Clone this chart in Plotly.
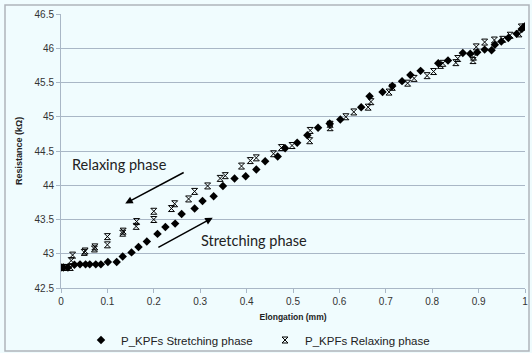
import plotly.graph_objects as go

# Stretching phase (diamonds)
stretch_x = [0.0, 0.005, 0.015, 0.029, 0.041, 0.053, 0.062, 0.075, 0.086, 0.101, 0.12, 0.133,
             0.152, 0.167, 0.185, 0.208, 0.225, 0.246, 0.26, 0.288, 0.305, 0.329, 0.349, 0.374,
             0.398, 0.421, 0.44, 0.467, 0.483, 0.509, 0.531, 0.554, 0.579, 0.602, 0.647, 0.665,
             0.693, 0.714, 0.735, 0.753, 0.775, 0.813, 0.834, 0.866, 0.882, 0.897, 0.913, 0.928,
             0.935, 0.949, 0.964, 0.982, 0.993, 1.0]
stretch_y = [42.8, 42.8, 42.8, 42.84, 42.845, 42.845, 42.845, 42.845, 42.845, 42.88, 42.88, 42.96,
             43.02, 43.10, 43.18, 43.29, 43.39, 43.44, 43.58, 43.66, 43.77, 43.84, 43.99, 44.10,
             44.13, 44.23, 44.35, 44.42, 44.54, 44.62, 44.73, 44.84, 44.90, 44.96, 45.14, 45.30,
             45.36, 45.45, 45.52, 45.61, 45.67, 45.78, 45.82, 45.93, 45.92, 45.94, 45.98, 45.97,
             46.05, 46.10, 46.15, 46.21, 46.28, 46.32]

# Relaxing phase (stars)
relax_x = [0.0, 0.004, 0.01, 0.02, 0.022, 0.025, 0.05, 0.052, 0.072, 0.073, 0.1, 0.1, 0.133,
           0.134, 0.162, 0.163, 0.2, 0.2, 0.238, 0.245, 0.275, 0.288, 0.316, 0.343, 0.354, 0.389,
           0.408, 0.421, 0.458, 0.475, 0.498, 0.536, 0.537, 0.58, 0.58, 0.614, 0.631, 0.662,
           0.668, 0.707, 0.714, 0.747, 0.761, 0.789, 0.803, 0.818, 0.823, 0.851, 0.855, 0.888,
           0.889, 0.895, 0.913, 0.934, 0.952, 0.968, 0.987, 0.992, 1.0]
relax_y = [42.8, 42.8, 42.8, 42.8, 42.9, 42.98, 43.02, 43.04, 43.07, 43.10, 43.13, 43.25, 43.30,
           43.33, 43.40, 43.47, 43.50, 43.62, 43.66, 43.73, 43.80, 43.91, 43.99, 44.10, 44.14, 44.28,
           44.36, 44.40, 44.46, 44.55, 44.58, 44.65, 44.80, 44.84, 44.89, 45.00, 45.07, 45.14,
           45.22, 45.36, 45.43, 45.49, 45.56, 45.60, 45.66, 45.75, 45.78, 45.79, 45.85, 45.82,
           45.87, 46.02, 46.09, 46.12, 46.13, 46.19, 46.21, 46.31, 46.31]

x_ticks = [0, 0.1, 0.2, 0.3, 0.4, 0.5, 0.6, 0.7, 0.8, 0.9, 1]
x_tick_labels = ["0", "0.1", "0.2", "0.3", "0.4", "0.5", "0.6", "0.7", "0.8", "0.9", "1"]
y_ticks = [42.5, 43, 43.5, 44, 44.5, 45, 45.5, 46, 46.5]
y_tick_labels = ["42.5", "43", "43.5", "44", "44.5", "45", "45.5", "46", "46.5"]

BG = "#F0FCFE"
GRID = "#A9B7C6"
AX_FONT = "Liberation Sans, Arial, sans-serif"

fig = go.Figure()
fig.add_trace(go.Scatter(
    x=stretch_x, y=stretch_y, mode="markers", name="P_KPFs Stretching phase",
    marker=dict(symbol="diamond", size=6.5, color="black", line=dict(width=0))))
fig.add_trace(go.Scatter(
    x=relax_x, y=relax_y, mode="markers", name="P_KPFs Relaxing phase",
    marker=dict(symbol="hourglass-open", size=6, color="black", line=dict(width=1, color="black"))))

W, H = 532, 353
L, R, T, B = 61, 7, 14, 65
pw = W - L - R
ph = H - T - B

def px_x(p):
    return (p - L) / pw

def px_y(p):
    return (H - B - p) / ph

fig.update_layout(
    width=W, height=H,
    margin=dict(l=L, r=R, t=T, b=B, autoexpand=False),
    paper_bgcolor=BG, plot_bgcolor=BG,
    font=dict(family=AX_FONT, color="#333333"),
    showlegend=True,
    legend=dict(orientation="h", x=81 / W, y=1 - 340 / H, xref="container", yref="container",
                xanchor="left", yanchor="middle", entrywidth=139, entrywidthmode="pixels",
                font=dict(size=11.5, family=AX_FONT, color="#222222"),
                bgcolor="rgba(0,0,0,0)", itemwidth=30, traceorder="normal"),
    xaxis=dict(range=[0, 1], tickvals=x_ticks, ticktext=x_tick_labels, automargin=False,
               showgrid=False, zeroline=False, showline=True, linecolor=GRID, linewidth=1,
               ticks="outside", ticklen=4, tickcolor=GRID,
               tickfont=dict(size=10, family=AX_FONT, color="#333333"),
               title=dict(text="<b>Elongation (mm)</b>", font=dict(size=8.5, family=AX_FONT, color="#222222"),
                          standoff=8)),
    yaxis=dict(range=[42.5, 46.5], tickvals=y_ticks, ticktext=y_tick_labels, automargin=False,
               showgrid=True, gridcolor=GRID, gridwidth=1, zeroline=False,
               showline=True, linecolor=GRID, linewidth=1,
               ticks="outside", ticklen=4, tickcolor=GRID,
               tickfont=dict(size=10, family=AX_FONT, color="#333333"),
               title=dict(text="<b>Resistance (kΩ)</b>", font=dict(size=9, family=AX_FONT, color="#222222"),
                          standoff=10)),
    shapes=[dict(type="rect", xref="paper", yref="paper",
                 x0=px_x(5), x1=px_x(529), y0=px_y(351), y1=px_y(5),
                 line=dict(color="#AEB4BA", width=1.5), fillcolor="rgba(0,0,0,0)", layer="below")],
    annotations=[
        dict(x=0.1384, y=43.734, ax=0.2676, ay=44.198, xref="x", yref="y", axref="x", ayref="y",
             showarrow=True, arrowhead=2, arrowsize=1, arrowwidth=1.5, arrowcolor="black", text=""),
        dict(x=0.327, y=43.526, ax=0.2066, ay=43.08, xref="x", yref="y", axref="x", ayref="y",
             showarrow=True, arrowhead=2, arrowsize=1, arrowwidth=1.5, arrowcolor="black", text=""),
        dict(x=0.127, y=44.296, xref="x", yref="y", text="Relaxing phase", showarrow=False,
             font=dict(size=14.5, family="Lato, Carlito, sans-serif", color="#222222")),
        dict(x=0.4167, y=43.19, xref="x", yref="y", text="Stretching phase", showarrow=False,
             font=dict(size=14.5, family="Lato, Carlito, sans-serif", color="#222222")),
    ],
)

fig.write_html("out.html", config={"displayModeBar": False},
               post_script="document.body.style.margin='0';document.body.style.overflow='hidden';")
